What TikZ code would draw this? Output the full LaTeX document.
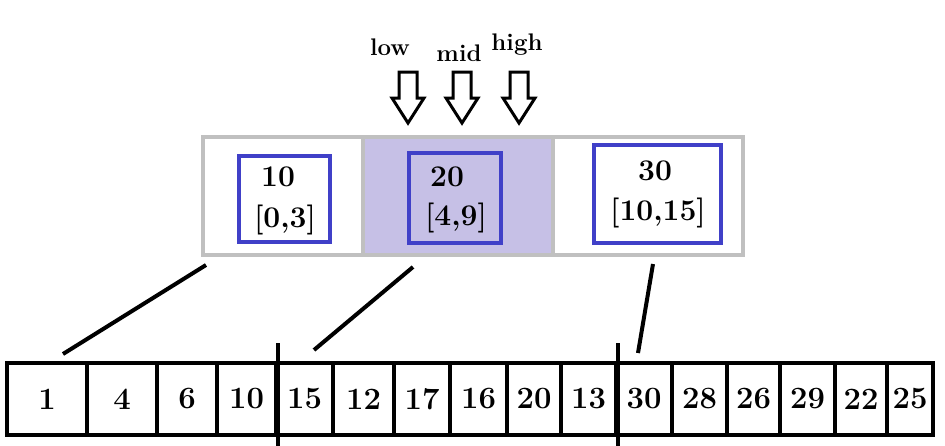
\documentclass[tikz,border=0pt]{standalone}
\usepackage{fontspec}
\usetikzlibrary{positioning,calc}
\definecolor{boxgray}{RGB}{192,192,192}
\definecolor{rangeblue}{RGB}{64,64,200}
\definecolor{midfill}{RGB}{198,192,230}

\begin{document}
\begin{tikzpicture}[x=1pt,y=-1pt,
    seg/.style={draw=boxgray, line width=4pt, minimum height=118pt, inner sep=0pt},
    spanbox/.style={draw=rangeblue, line width=4pt, inner sep=0pt},
    num/.style={inner sep=0pt, font=\fontsize{30}{32}\selectfont\bfseries},
    tag/.style={inner sep=0pt, font=\fontsize{24}{26}\selectfont\bfseries},
    elem/.style={draw, line width=4pt, minimum height=72pt, inner sep=0pt, font=\fontsize{31}{33}\selectfont\bfseries},
    ptr/.style={draw, line width=3pt, fill=white, line join=miter},
    link/.style={line width=4pt}
]
    \useasboundingbox (0,0) rectangle (945,445);

    % Segments
    \node[seg, minimum width=160pt] (segA) at (283,196) {};
    \node[seg, minimum width=190pt, fill=midfill] (segB) at (458,196) {};
    \node[seg, minimum width=190pt] (segC) at (648,196) {};

    \node[spanbox, minimum width=91pt, minimum height=86pt] (boxA) at (284.5,199) {};
    \node[spanbox, minimum width=92pt, minimum height=90pt] (boxB) at (455,198) {};
    \node[spanbox, minimum width=127pt, minimum height=98pt] (boxC) at (657.5,194) {};

    \node[num] (maxA) at (278,177) {10};
    \node[num] (spanA) at (285,220) {[0,3]};
    \node[num] (maxB) at (447,177) {20};
    \node[num] (spanB) at (456,218) {[4,9]};
    \node[num] (maxC) at (655,171) {30};
    \node[num] (spanC) at (658,213) {[10,15]};

    % Pointers
    \foreach \x/\lx/\ly/\lab in {408/390/47/low, 462/459/53/mid, 519/517/45/high} {
        \node[tag] (\lab) at (\lx,\ly) {\lab};
        \draw[ptr] (\x-9,72) -- ++(18,0) -- ++(0,26) -- ++(7,0) -- (\x,123)
            -- (\x-16,98) -- ++(7,0) -- cycle;
    }

    % Array
    \foreach \l/\r/\v [count=\i] in {7/87/1, 87/157/4, 157/217/6, 217/276/10,
        276/333/15, 333/394/12, 394/450/17, 450/507/16, 507/561/20, 561/616/13,
        616/672/30, 672/727/28, 727/780/26, 780/835/29, 835/887/22, 887/933/25} {
        \node[elem, minimum width={(\r-\l)*1pt}] (a\i) at ({(\l+\r)/2},399) {\v};
    }

    % Block borders
    \draw[link] ([yshift=18pt]a4.north east) -- ([yshift=-10pt]a4.south east);
    \draw[link] ([yshift=18pt]a10.north east) -- ([yshift=-10pt]a10.south east);

    % Links
    \draw[link] ([xshift=5pt,yshift=-8pt]segA.south west) -- ([xshift=16pt,yshift=7pt]a1.north);
    \draw[link] ([xshift=52pt,yshift=-10pt]segB.south west) -- ([xshift=9.5pt,yshift=11pt]a5.north);
    \draw[link] ([xshift=5pt,yshift=-7pt]segC.south) -- ([xshift=-6pt,yshift=8pt]a11.north);
\end{tikzpicture}
\end{document}
